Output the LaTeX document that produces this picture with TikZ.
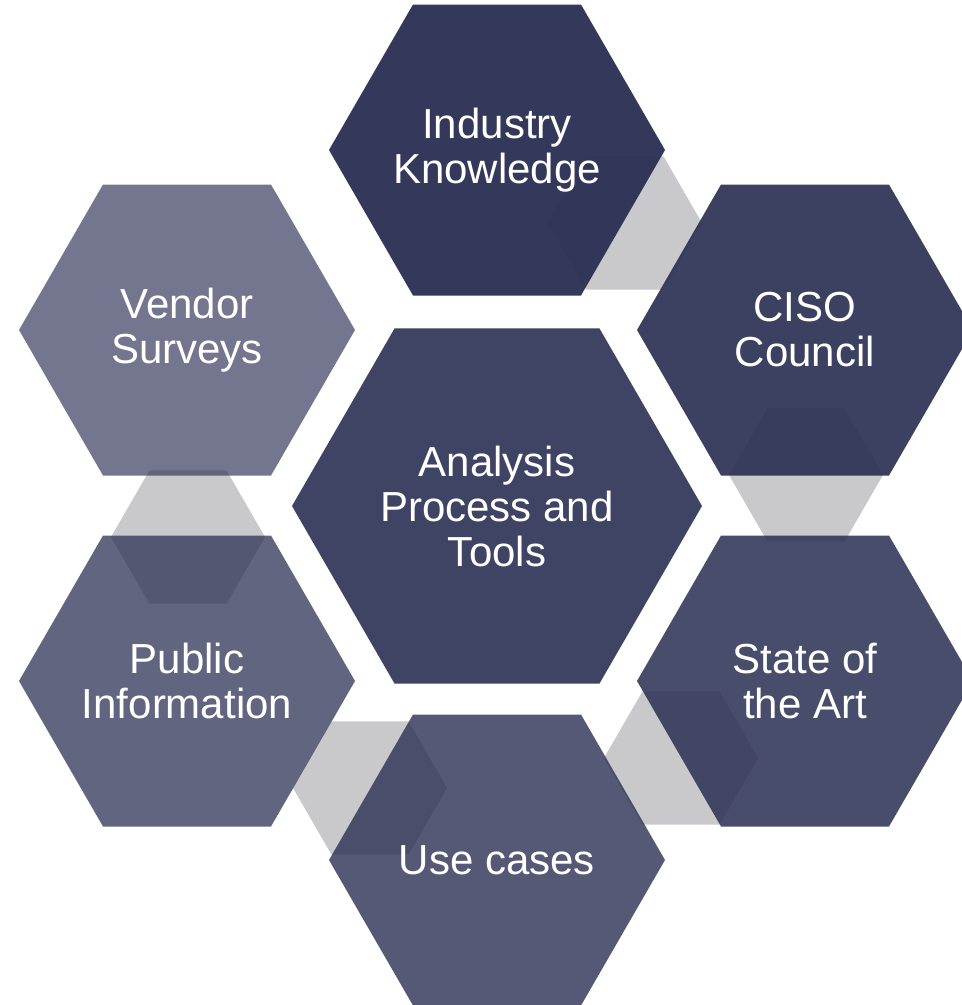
\documentclass[tikz,border=0pt]{standalone}
\usepackage{fontspec}
\setmainfont{Liberation Sans}
\usetikzlibrary{shapes.geometric}
\definecolor{navy}{HTML}{2C3054}
\definecolor{linkgray}{HTML}{C9C9CB}
\begin{document}
\begin{tikzpicture}[x=1pt,y=-1pt,
  hexbase/.style={regular polygon, regular polygon sides=6, inner sep=0pt, outer sep=0pt, draw=none},
  outerhex/.style={hexbase, minimum size=336pt, fill=navy},
  centerhex/.style={hexbase, minimum size=410pt, fill=navy},
  linkhex/.style={hexbase, minimum size=154pt, fill=linkgray},
  lbl/.style={text=white, align=center, inner sep=0pt, font=\fontsize{42}{45}\selectfont}]
\fill[white] (0,0) rectangle (962,1005);
\useasboundingbox (0,0) rectangle (962,1005);
% connector hexagons (behind)
\node[linkhex] (l1) at (625,223) {};
\node[linkhex] (l2) at (806,475) {};
\node[linkhex] (l3) at (681,758) {};
\node[linkhex] (l4) at (370,788) {};
\node[linkhex] (l5) at (188,537) {};
% main hexagons
\node[outerhex, fill opacity=0.96] (ind) at (497,150) {};
\node[outerhex, fill opacity=0.92] (ciso) at (805,330) {};
\node[outerhex, fill opacity=0.86] (state) at (805,681) {};
\node[outerhex, fill opacity=0.80] (use) at (497,860) {};
\node[outerhex, fill opacity=0.74] (pub) at (187,681) {};
\node[outerhex, fill opacity=0.66] (vend) at (187,330) {};
\node[centerhex, fill opacity=0.90] (ana) at (497,506) {};
% labels
\node[lbl] (indT) at (ind) {Industry\\Knowledge};
\node[lbl] (cisoT) at (ciso) {CISO\\Council};
\node[lbl] (stateT) at (state) {State of\\the Art};
\node[lbl] (useT) at (use) {Use cases};
\node[lbl] (pubT) at (pub) {Public\\Information};
\node[lbl] (vendT) at (vend) {Vendor\\Surveys};
\node[lbl] (anaT) at (ana) {Analysis\\Process and\\Tools};
\end{tikzpicture}
\end{document}
